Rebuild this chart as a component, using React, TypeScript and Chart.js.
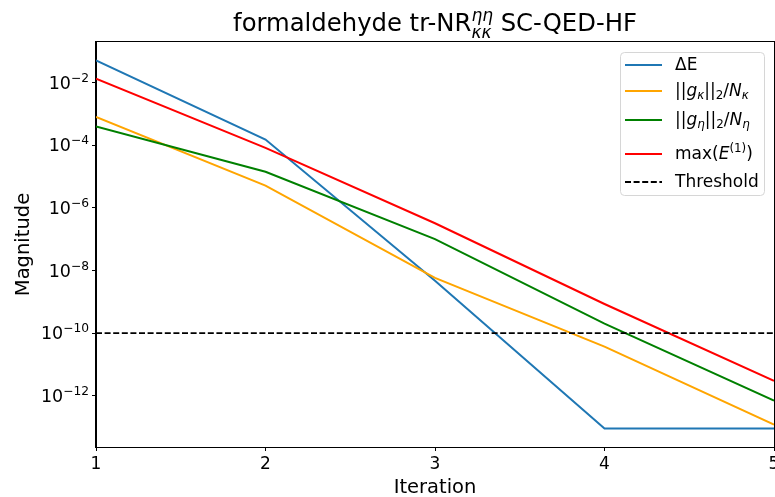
import React, { useEffect, useRef } from 'react';
import { Chart, registerables } from 'chart.js';

Chart.register(...registerables);

// ---------- data ----------
const iterations = [1, 2, 3, 4, 5];
const deltaE = [5.0e-2, 1.5e-4, 4.7e-9, 9.0e-14, 9.0e-14];
const gKappa = [7.9e-4, 5.1e-6, 5.8e-9, 3.7e-11, 1.2e-13];
const gEta = [3.9e-4, 1.4e-5, 1.0e-7, 2.0e-10, 7.0e-13];
const maxE1 = [1.3e-2, 8.1e-5, 3.2e-7, 8.5e-10, 3.0e-12];
const thresholdValue = 1e-10;
const yTickValues = [1e-12, 1e-10, 1e-8, 1e-6, 1e-4, 1e-2];
const xTickValues = [1, 2, 3, 4, 5];
const seriesLabels = ['ΔE', '||g_κ||_2/N_κ', '||g_η||_2/N_η', 'max(E^(1))', 'Threshold'];
const seriesColors = ['#1f77b4', '#ffa500', '#008000', '#ff0000', '#000000'];

// ---------- rich text helpers ----------
type Run = { t: string; it?: boolean; lvl?: number };
type Piece = Run | { sup: Run[]; sub: Run[] };
const FAM = '"DejaVu Sans"';
const SCRIPT = 0.7;

function setFont(ctx: CanvasRenderingContext2D, size: number, it?: boolean) {
  ctx.font = `${it ? 'italic ' : ''}${size}px ${FAM}`;
}
function runW(ctx: CanvasRenderingContext2D, r: Run, size: number) {
  setFont(ctx, r.lvl ? size * SCRIPT : size, r.it);
  return ctx.measureText(r.t).width;
}
function runsW(ctx: CanvasRenderingContext2D, rs: Run[], size: number) {
  return rs.reduce((a, r) => a + runW(ctx, r, size), 0);
}
function pieceW(ctx: CanvasRenderingContext2D, p: Piece, size: number) {
  if ('sup' in p) return Math.max(runsW(ctx, p.sup.map(r => ({ ...r, lvl: 1 })), size), runsW(ctx, p.sub.map(r => ({ ...r, lvl: -1 })), size));
  return runW(ctx, p, size);
}
function drawRuns(ctx: CanvasRenderingContext2D, rs: Run[], x: number, y: number, size: number, supShift: number, subShift: number) {
  for (const r of rs) {
    const s = r.lvl ? size * SCRIPT : size;
    setFont(ctx, s, r.it);
    const dy = r.lvl === 1 ? -size * supShift : r.lvl === -1 ? size * subShift : 0;
    ctx.fillText(r.t, x, y + dy);
    x += ctx.measureText(r.t).width;
  }
  return x;
}
function drawRich(ctx: CanvasRenderingContext2D, pieces: Piece[], x: number, y: number, size: number, align: 'left' | 'center' | 'right') {
  const total = pieces.reduce((a, p) => a + pieceW(ctx, p, size), 0);
  let cx = align === 'left' ? x : align === 'center' ? x - total / 2 : x - total;
  ctx.textAlign = 'left';
  ctx.textBaseline = 'alphabetic';
  for (const p of pieces) {
    if ('sup' in p) {
      const w = pieceW(ctx, p, size);
      drawRuns(ctx, p.sup.map(r => ({ ...r, lvl: 1 })), cx, y, size, 0.42, 0.3);
      drawRuns(ctx, p.sub.map(r => ({ ...r, lvl: -1 })), cx, y, size, 0.42, 0.3);
      cx += w;
    } else {
      cx = drawRuns(ctx, [p], cx, y, size, 0.4, 0.22);
    }
  }
}

const titlePieces: Piece[] = [
  { t: 'formaldehyde tr-NR' },
  { sup: [{ t: 'ηη', it: true }], sub: [{ t: 'κκ', it: true }] },
  { t: ' SC-QED-HF' },
];

const legendPieces: Piece[][] = [
  [{ t: 'ΔE' }],
  [{ t: '||' }, { t: 'g', it: true }, { t: 'κ', it: true, lvl: -1 }, { t: '||' }, { t: '2', lvl: -1 }, { t: '/' }, { t: 'N', it: true }, { t: 'κ', it: true, lvl: -1 }],
  [{ t: '||' }, { t: 'g', it: true }, { t: 'η', it: true, lvl: -1 }, { t: '||' }, { t: '2', lvl: -1 }, { t: '/' }, { t: 'N', it: true }, { t: 'η', it: true, lvl: -1 }],
  [{ t: 'max(' }, { t: 'E', it: true }, { t: '(1)', lvl: 1 }, { t: ')' }],
  [{ t: 'Threshold' }],
];

const decorPlugin = {
  id: 'decor',
  afterDatasetsDraw(chart: any) {
    const ctx: CanvasRenderingContext2D = chart.ctx;
    const { left, right, top, bottom } = chart.chartArea;
    const yScale = chart.scales.y;
    ctx.save();
    // frame
    ctx.strokeStyle = '#000';
    ctx.lineWidth = 1;
    ctx.strokeRect(Math.round(left) - 0.5, Math.round(top) - 0.5, Math.round(right - left) + 1, Math.round(bottom - top) + 1);

    ctx.fillStyle = '#000';
    // title
    drawRich(ctx, titlePieces, (left + right) / 2, 31, 24.3, 'center');
    // x axis title
    drawRich(ctx, [{ t: 'Iteration' }], (left + right) / 2, 493, 19.5, 'center');
    // y axis title
    ctx.save();
    ctx.translate(29, (top + bottom) / 2);
    ctx.rotate(-Math.PI / 2);
    drawRich(ctx, [{ t: 'Magnitude' }], 0, 0, 19.5, 'center');
    ctx.restore();
    // y tick labels
    for (const v of yTickValues) {
      const py = yScale.getPixelForValue(v);
      const exp = Math.round(Math.log10(v));
      const lbl = exp < 0 ? '\u2212' + String(-exp) : String(exp);
      drawRich(ctx, [{ t: '10' }, { t: lbl, lvl: 1 }], 89, py + 6.3, 17.5, 'right');
    }

    // legend
    const lx0 = 620.5, ly0 = 52.5, lx1 = 764.5, ly1 = 195.5, rad = 4;
    ctx.beginPath();
    ctx.moveTo(lx0 + rad, ly0);
    ctx.arcTo(lx1, ly0, lx1, ly1, rad);
    ctx.arcTo(lx1, ly1, lx0, ly1, rad);
    ctx.arcTo(lx0, ly1, lx0, ly0, rad);
    ctx.arcTo(lx0, ly0, lx1, ly0, rad);
    ctx.closePath();
    ctx.fillStyle = 'rgba(255,255,255,0.8)';
    ctx.fill();
    ctx.strokeStyle = '#d6d6d6';
    ctx.lineWidth = 1;
    ctx.stroke();

    const rowLines = [65, 91, 120, 154, 182];
    chart.data.datasets.forEach((ds: any, i: number) => {
      const ly = rowLines[i];
      ctx.beginPath();
      ctx.strokeStyle = ds.borderColor;
      ctx.lineWidth = ds.borderWidth;
      ctx.setLineDash(ds.borderDash || []);
      ctx.moveTo(625, ly);
      ctx.lineTo(662, ly);
      ctx.stroke();
      ctx.setLineDash([]);
      ctx.fillStyle = '#000';
      drawRich(ctx, legendPieces[i], 675, ly + 4.5, 17, 'left');
    });
    ctx.restore();
  },
};

function logBounds(values: number[]) {
  const logs = values.map(v => Math.log10(v));
  const lo = Math.min(...logs);
  const hi = Math.max(...logs);
  const m = (hi - lo) * 0.05;
  return { min: Math.pow(10, lo - m), max: Math.pow(10, hi + m) };
}

export default function App() {
  const ref = useRef<HTMLCanvasElement>(null);
  useEffect(() => {
    document.body.style.margin = '0';
    Chart.defaults.font.family = FAM;
    const bounds = logBounds([...deltaE, ...gKappa, ...gEta, ...maxE1]);
    const mk = (arr: number[]) => iterations.map((x, i) => ({ x, y: arr[i] }));
    const chart = new Chart(ref.current!, {
      type: 'line',
      data: {
        datasets: [
          { label: seriesLabels[0], data: mk(deltaE), borderColor: seriesColors[0], borderWidth: 2, pointRadius: 0, order: 4 },
          { label: seriesLabels[1], data: mk(gKappa), borderColor: seriesColors[1], borderWidth: 2, pointRadius: 0, order: 3 },
          { label: seriesLabels[2], data: mk(gEta), borderColor: seriesColors[2], borderWidth: 2, pointRadius: 0, order: 2 },
          { label: seriesLabels[3], data: mk(maxE1), borderColor: seriesColors[3], borderWidth: 2, pointRadius: 0, order: 1 },
          {
            label: seriesLabels[4],
            data: [{ x: iterations[0], y: thresholdValue }, { x: iterations[iterations.length - 1], y: thresholdValue }],
            borderColor: seriesColors[4], borderWidth: 1.8, borderDash: [6, 2.6], pointRadius: 0, order: 0,
          },
        ],
      },
      options: {
        responsive: false,
        animation: false,
        devicePixelRatio: 1,
        layout: { padding: { top: 42, right: 1, left: 0, bottom: 0 } },
        plugins: { legend: { display: false }, title: { display: false }, tooltip: { enabled: false } },
        elements: { line: { tension: 0 } },
        scales: {
          x: {
            type: 'linear',
            min: xTickValues[0],
            max: xTickValues[xTickValues.length - 1],
            afterBuildTicks: (s: any) => { s.ticks = xTickValues.map(v => ({ value: v })); },
            afterFit: (s: any) => { s.height = 50; s.paddingLeft = 0; s.paddingRight = 0; },
            ticks: { color: '#000', font: { size: 17 }, padding: 3, maxRotation: 0, autoSkip: false },
            grid: { display: true, drawOnChartArea: false, drawTicks: true, tickLength: 4, color: '#000' },
            border: { display: true, color: '#000' },
          },
          y: {
            type: 'logarithmic',
            min: bounds.min,
            max: bounds.max,
            afterBuildTicks: (s: any) => { s.ticks = yTickValues.map(v => ({ value: v })); },
            afterFit: (s: any) => { s.width = 96; s.paddingTop = 0; s.paddingBottom = 0; },
            ticks: { callback: () => '', padding: 0 },
            grid: { display: true, drawOnChartArea: false, drawTicks: true, tickLength: 4, color: '#000' },
            border: { display: true, color: '#000' },
          },
        },
      } as any,
      plugins: [decorPlugin],
    });
    return () => chart.destroy();
  }, []);
  return <canvas ref={ref} width={775} height={497} style={{ display: 'block' }} />;
}
